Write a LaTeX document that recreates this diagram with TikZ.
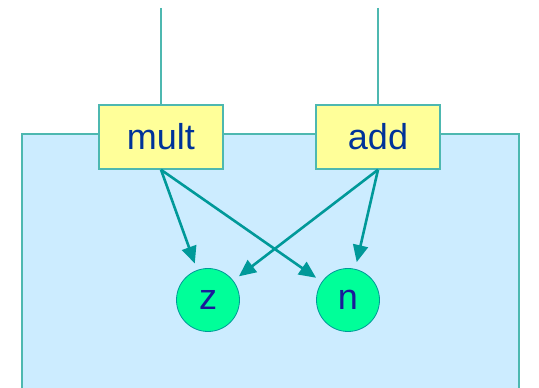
\documentclass[tikz,border=0pt]{standalone}
\usepackage{fontspec}
\setmainfont{Liberation Sans}
\usepackage{tikz}
\usetikzlibrary{shapes, arrows.meta, positioning}
\definecolor{edgeteal}{HTML}{4DB8B0}
\definecolor{arrowteal}{HTML}{009999}
\definecolor{panelblue}{HTML}{CCECFF}
\definecolor{boxyellow}{HTML}{FFFF99}
\definecolor{vargreen}{HTML}{00FF99}
\definecolor{boxtext}{HTML}{003399}
\definecolor{vartext}{HTML}{1A1A99}
\tikzstyle{op}=[draw=edgeteal,fill=boxyellow,rectangle,line width=1.5pt,
  minimum width=124pt,minimum height=64pt,inner sep=0pt,text=boxtext]
\tikzstyle{var}=[draw=arrowteal,fill=vargreen,circle,line width=0.8pt,
  minimum size=63pt,inner sep=0pt,text=vartext]
\tikzstyle{wire}=[draw=edgeteal,line width=1.5pt]
\tikzstyle{link}=[->,draw=arrowteal,line width=2.6pt,shorten >=7pt]
\tikzstyle{every node}=[font=\fontsize{36}{40}\selectfont]

\begin{document}
\begin{tikzpicture}[x=1pt,y=1pt,node distance=217pt,
    >={Triangle[length=17pt,width=15pt]}]
    \useasboundingbox (0,0) rectangle (539,388);
    % panel
    \fill[panelblue] (22,0) rectangle (519,254);
    \draw[wire] (22,-2) |- (519,254) -- (519,-2);
    % operators and variables
    \node[op] (mult) at (161,251) {mult};
    \node[op, right of=mult] (add) {add};
    \node[var] (z) at (208,88) {z};
    \node[var, right of=z, node distance=140pt] (n) {n};
    \coordinate (mtop) at (161,380);
    \coordinate (atop) at (378,380);
    \draw[wire] (mtop) -- (mult.north);
    \draw[wire] (atop) -- (add.north);
    \draw[link] (mult.south) -- (z);
    \draw[link] (mult.south) -- (n);
    \draw[link] (add.south) -- (z);
    \draw[link] (add.south) -- (n);
\end{tikzpicture}
\end{document}
